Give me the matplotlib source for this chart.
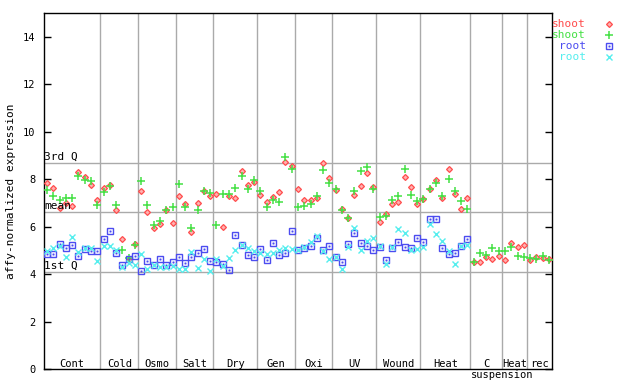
import numpy as np
import matplotlib
matplotlib.use("Agg")
import matplotlib.pyplot as plt

plt.rcParams["font.family"] = ["DejaVu Sans Mono", "DejaVu Sans"]

# ---------- data ----------
group_names = ["Cont", "Cold", "Osmo", "Salt", "Dry", "Gen", "Oxi", "UV",
               "Wound", "Heat", "C", "Heat", "rec"]
group_sizes = [9, 6, 6, 6, 7, 6, 6, 7, 7, 8, 5, 4, 4]

# shoot (red diamonds)
shoot_a = [7.82, 7.63, 6.79, 7.00, 6.86, 8.29, 8.08, 7.77, 7.10,
           7.63, 7.77, 6.72, 5.48, 4.60, 5.28,
           7.52, 6.63, 5.95, 6.11, 6.68, 6.16,
           7.28, 6.97, 5.76, 7.00, 7.52, 7.28,
           7.39, 5.99, 7.28, 7.21, 8.34, 7.77, 7.87,
           7.35, 7.04, 7.25, 7.45, 8.72, 8.57,
           7.59, 7.14, 7.14, 7.21, 8.66, 8.05,
           7.53, 6.75, 6.37, 7.35, 7.73, 8.27, 7.66,
           6.20, 6.54, 6.96, 7.04, 8.10, 7.67, 6.96,
           7.17, 7.59, 7.98, 7.21, 8.43, 7.38, 6.75, 7.21,
           4.51, 4.51, 4.72, 4.64, 4.76,
           4.60, 5.31, 5.14, 5.23,
           4.60, 4.72, 4.68, 4.64]

# shoot (green crosses)
shoot_b = [7.56, 7.31, 7.10, 7.20, 7.21, 8.15, 7.98, 7.93, 6.90,
           7.45, 7.73, 6.92, 5.03, 4.68, 5.23,
           7.93, 6.92, 6.07, 6.24, 6.70, 6.83,
           7.80, 6.83, 5.95, 6.69, 7.51, 7.42,
           6.07, 7.39, 7.39, 7.63, 8.15, 7.59, 7.98,
           7.49, 6.83, 7.11, 7.04, 8.94, 8.43,
           6.83, 6.86, 6.96, 7.31, 8.38, 7.84,
           7.59, 6.68, 6.37, 7.52, 8.34, 8.52, 7.59,
           6.41, 6.44, 7.14, 7.31, 8.43, 7.34, 7.07,
           7.17, 7.59, 7.82, 7.31, 8.01, 7.52, 7.06, 6.75,
           4.51, 4.89, 4.81, 5.10, 4.97,
           4.97, 5.14, 4.76, 4.72,
           4.68, 4.64, 4.76, 4.60]

# root (blue squares)
root_a = [4.85, 4.85, 5.27, 5.10, 5.23, 4.78, 5.07, 4.97, 4.99,
          5.48, 5.83, 4.89, 4.38, 4.65, 4.76,
          4.13, 4.55, 4.38, 4.65, 4.38, 4.51,
          4.72, 4.47, 4.72, 4.89, 5.06, 4.55,
          4.51, 4.43, 4.19, 5.65, 5.23, 4.81, 4.72,
          5.06, 4.60, 5.31, 4.81, 4.89, 5.82,
          5.03, 5.09, 5.19, 5.51, 5.00, 5.20,
          4.72, 4.51, 5.27, 5.73, 5.31, 5.20, 5.02,
          5.13, 4.60, 5.09, 5.36, 5.14, 5.10, 5.50,
          5.36, 6.30, 6.30, 5.10, 4.85, 4.89, 5.17, 5.48]

# root (cyan x)
root_b = [4.96, 5.10, 5.20, 4.72, 5.57, 4.92, 5.10, 5.10, 4.57,
          5.20, 5.20, 5.03, 4.29, 4.47, 4.38,
          4.86, 4.22, 4.38, 4.29, 4.29, 4.33,
          4.22, 4.22, 4.93, 4.26, 4.64, 4.13,
          4.64, 4.33, 4.68, 5.02, 5.23, 5.10, 4.96,
          4.89, 4.85, 4.89, 5.03, 5.10, 5.06,
          5.03, 5.12, 5.34, 5.62, 4.96, 4.64,
          4.72, 4.22, 5.13, 5.93, 5.03, 5.38, 5.50,
          5.17, 4.43, 5.13, 5.88, 5.73, 5.03, 5.06,
          5.14, 6.13, 5.69, 5.39, 4.97, 4.43, 5.17, 5.23]

q_lines = [8.69, 6.62, 4.09]
q_labels = ["3rd Q", "mean", "1st Q"]

# ---------- colours / markers ----------
RED = "#ff4c4c"
GREEN = "#44e044"
BLUE = "#4c4cf0"
CYAN = "#55eeee"
GRID = "#aaaaaa"

MK_RED = dict(marker="D", ms=3.0, mfc="#ffb0b0", mec=RED, mew=0.9)
MK_GREEN = dict(marker="+", ms=6.0, mec=GREEN, mew=1.1)
MK_BLUE = dict(marker="s", ms=4.3, mfc="none", mec=BLUE, mew=1.0)
MK_DOT = dict(marker="s", ms=1.0, mfc=BLUE, mec=BLUE, mew=0.3)
MK_CYAN = dict(marker="x", ms=4.4, mec=CYAN, mew=1.0)

fig = plt.figure(figsize=(6.4, 3.84), dpi=100)
ax = fig.add_axes([44 / 640, 15 / 384, 508 / 640, 356 / 384])

n_total = sum(group_sizes)
bounds = np.cumsum(group_sizes)

# group separators
for b in bounds[:-1]:
    ax.axvline(b, color=GRID, lw=1, zorder=1)

# quartile lines
for val, lab in zip(q_lines, q_labels):
    ax.axhline(val, color=GRID, lw=1, zorder=1)
    ax.text(0.05, val + 0.05, lab, fontsize=8, va="bottom", ha="left", zorder=5)

xs = np.arange(len(shoot_a)) + 0.5
xr = np.arange(len(root_a)) + 0.5

ax.plot(xs, shoot_a, ls="none", zorder=3, **MK_RED)
ax.plot(xs, shoot_b, ls="none", zorder=3, **MK_GREEN)
ax.plot(xr, root_a, ls="none", zorder=3, **MK_BLUE)
ax.plot(xr, root_a, ls="none", zorder=3, **MK_DOT)
ax.plot(xr, root_b, ls="none", zorder=3, **MK_CYAN)

# group labels inside the bottom of the plot
starts = np.concatenate([[0], bounds[:-1]])
for name, s, e in zip(group_names, starts, bounds):
    ax.text((s + e) / 2, 0.08, name, fontsize=7.5, ha="center", va="baseline")
fig.text(502 / 640, 1 - 378 / 384, "suspension", fontsize=7.5,
         ha="center", va="baseline")

ax.set_xlim(0, n_total)
ax.set_ylim(0, 15)
ax.set_xticks([])
ax.set_yticks(np.arange(0, 15, 2))
ax.tick_params(axis="y", direction="in", length=5, width=1, labelsize=7.5,
               right=True, pad=6)
for spine in ax.spines.values():
    spine.set_linewidth(1.0)
ax.set_ylabel("affy-normalized expression", fontsize=8, labelpad=5)

# legend on the right
leg = [("shoot", RED, [MK_RED]),
       ("shoot", GREEN, [MK_GREEN]),
       ("root", BLUE, [MK_BLUE, MK_DOT]),
       ("root", CYAN, [MK_CYAN])]
for k, (lab, col, mks) in enumerate(leg):
    yy = 1 - (24 + k * 11) / 384
    fig.text(586 / 640, yy, lab, color=col, fontsize=8, ha="right", va="center")
    for mk in mks:
        ax.plot([609 / 640], [yy], transform=fig.transFigure, clip_on=False,
                ls="none", **mk)

fig.savefig("out.png", dpi=100)
